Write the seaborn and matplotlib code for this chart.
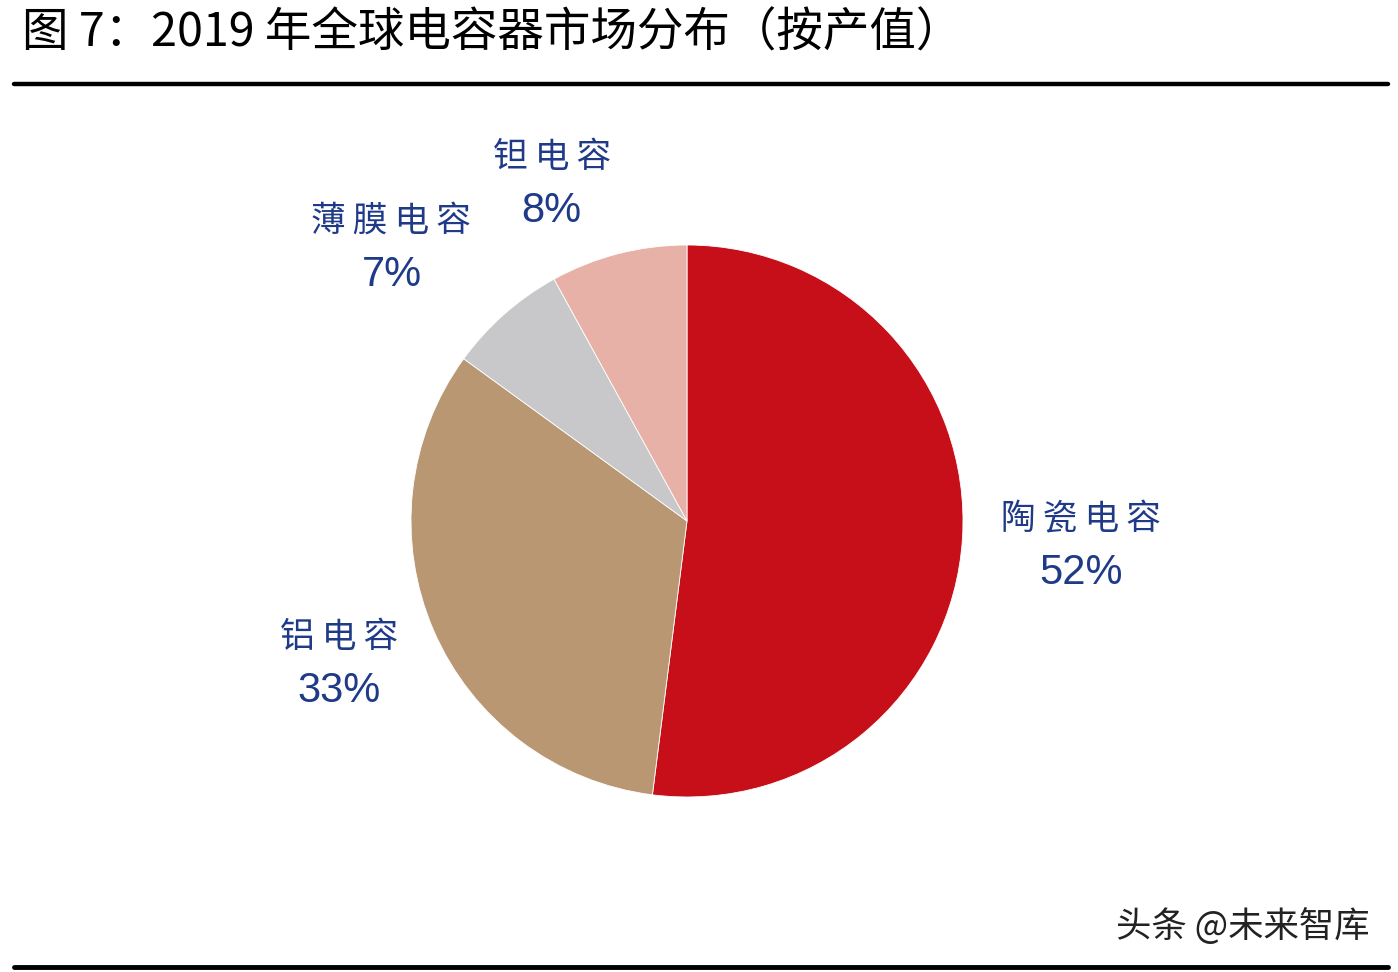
import numpy as np
import matplotlib
matplotlib.use('Agg')
import matplotlib.pyplot as plt
from matplotlib.lines import Line2D
import seaborn as sns

# data
categories = ['陶瓷电容', '铝电容', '薄膜电容', '钽电容']
shares = [52, 33, 7, 8]
pct_labels = ['52%', '33%', '7%', '8%']
title = '图 7：2019 年全球电容器市场分布（按产值）'
source = '头条 @未来智库'

colors = ['#C70F19', '#B99773', '#C8C8CA', '#E8B1A7']
# label placement: (distance from centre, angle shift in degrees)
label_pos = [(1.43, 0.0), (1.365, -1.0), (1.457, 5.9), (1.314, 7.5)]


def spaced(s):
    # thin space between CJK glyphs, like the loose setting of the original
    out = s[0]
    for a, b in zip(s[:-1], s[1:]):
        if (ord(a) > 0x2E80 or ord(b) > 0x2E80) and a != ' ' and b != ' ':
            out += '\u2009'
        out += b
    return out


sns.set_theme(style='white')
plt.rcParams['font.family'] = ['Noto Sans CJK SC', 'DejaVu Sans']

W, H = 1398, 972
fig = plt.figure(figsize=(W / 100, H / 100), dpi=100)
fig.patch.set_facecolor('white')

# axes over the whole figure, 1 data unit = pie radius in pixels
R = 276.0
cx, cy = 687.0, 521.0
ax = fig.add_axes([0, 0, 1, 1])
wedges, _ = ax.pie(shares, colors=colors, startangle=90, counterclock=False,
                   radius=1.0, wedgeprops=dict(edgecolor='white', linewidth=0.6))
ax.set_aspect('auto')
ax.set_xlim(-cx / R, (W - cx) / R)
ax.set_ylim(-(H - cy) / R, cy / R)
ax.axis('off')

navy = '#1F3B87'
for w, name, pct, (dist, shift) in zip(wedges, categories, pct_labels, label_pos):
    ang = np.deg2rad((w.theta1 + w.theta2) / 2 + shift)
    x, y = dist * np.cos(ang), dist * np.sin(ang)
    ax.text(x, y + 0.097, spaced(name), ha='center', va='center', fontsize=25,
            color=navy)
    ax.text(x, y - 0.097, pct, ha='center', va='center', fontsize=30,
            color=navy, family=['Liberation Sans', 'DejaVu Sans'])

fig.text(22 / W, 1 - 33 / H, title, ha='left', va='center', fontsize=33.5,
         color='black')
fig.add_artist(Line2D([14 / W, 1388 / W], [1 - 84 / H, 1 - 84 / H],
                      color='black', linewidth=3.2))
fig.add_artist(Line2D([14 / W, 1388 / W], [1 - 967 / H, 1 - 967 / H],
                      color='black', linewidth=3.5))
fig.text(1370 / W, 1 - 927 / H, source, ha='right', va='center', fontsize=25.5,
         color='#222222')

fig.savefig('out.png', dpi=100, facecolor='white')
